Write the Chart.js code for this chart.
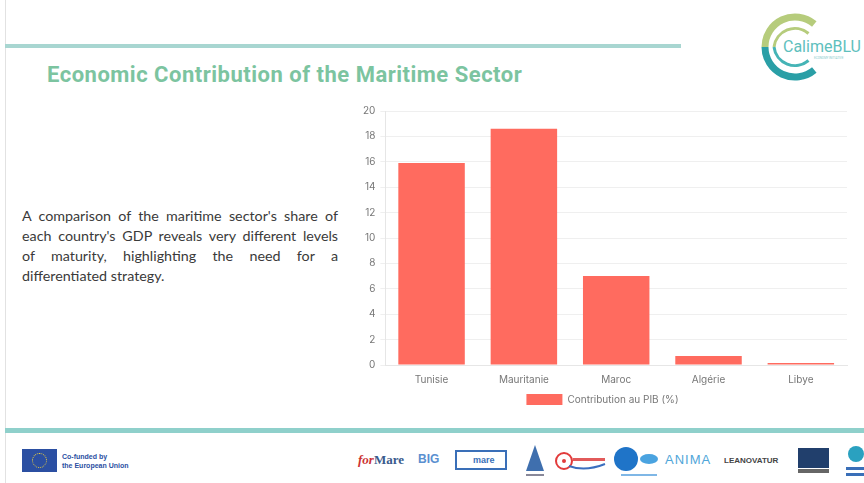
<!DOCTYPE html>
<html>
<head>
<meta charset="utf-8">
<script src="https://cdn.jsdelivr.net/npm/chart.js@4"></script>
<style>
  body { margin: 0; background: #fff; width: 864px; height: 483px; overflow: hidden; position: relative; font-family: "Open Sans", sans-serif; }
  .edge { position: absolute; left: 5px; top: 0; width: 1px; height: 483px; background: #e2e2e2; }
  .topband { position: absolute; left: 5px; top: 44px; width: 676px; height: 4px; background: #a8d6d1; }
  .botband { position: absolute; left: 5px; top: 428px; width: 859px; height: 5px; background: #8fd0cb; }
  .title { position: absolute; left: 47px; top: 62px; font-family: Roboto, sans-serif; font-weight: 700; font-size: 22px; color: #7cc4a0; letter-spacing: 0.5px; white-space: nowrap; }
  .body { position: absolute; left: 22px; top: 206px; width: 316px; font-family: Lato, sans-serif; font-size: 14.3px; line-height: 20px; color: #3a3a3a; }
  .body div { text-align: justify; text-align-last: justify; white-space: nowrap; }
  .body div.last { text-align-last: left; }
  #wrap { position: absolute; left: 340px; top: 100px; width: 515px; height: 315px; }
  .eu { position: absolute; left: 22px; top: 449px; width: 35px; height: 23px; background: #2b4fa2; }
  .eu div { position: absolute; left: 10px; top: 4px; width: 13px; height: 13px; border: 1px dotted #f2d43a; border-radius: 50%; }
  .eutxt { position: absolute; left: 62px; top: 452px; font-family: "Liberation Sans", sans-serif; font-size: 7px; line-height: 9px; color: #2b4fa2; font-weight: 700; }
  .lg { position: absolute; font-family: "Liberation Sans", sans-serif; font-weight: 700; white-space: nowrap; }
</style>
</head>
<body>
<div class="edge"></div>
<div class="topband"></div>
<div class="title">Economic Contribution of the Maritime Sector</div>

<svg style="position:absolute;left:750px;top:5px" width="114" height="85">
  <path d="M 64.3 19 A 30 30 0 0 0 15 42" fill="none" stroke="#b6cc7c" stroke-width="7"/>
  <path d="M 15 42 A 30 30 0 0 0 64.3 65" fill="none" stroke="#2a9fa6" stroke-width="7"/>
  <path d="M 58.5 28.5 A 21 21 0 0 0 24 42" fill="none" stroke="#b6cc7c" stroke-width="3"/>
  <path d="M 24 42 A 21 21 0 0 0 58.5 55.5" fill="none" stroke="#45b4b6" stroke-width="3"/>
  <rect x="40" y="32" width="74" height="20" fill="#fff"/>
  <text x="33" y="47" font-family="Roboto, sans-serif" font-size="16" fill="#5ec0bd">CalimeBLU</text>
  <text x="64" y="54" font-family="Roboto, sans-serif" font-size="3" fill="#8cc">ECONOMY INITIATIVE</text>
</svg>

<div class="body">
  <div>A comparison of the maritime sector's share of</div>
  <div>each country's GDP reveals very different levels</div>
  <div>of maturity, highlighting the need for a</div>
  <div class="last">differentiated strategy.</div>
</div>

<div id="wrap"><canvas id="chart"></canvas></div>

<div class="botband"></div>
<div class="eu"><div></div></div>
<div class="eutxt">Co-funded by<br>the European Union</div>

<div class="lg" style="left:358px;top:452px;font-size:13px;color:#3a5a8c;font-family:'Liberation Serif',serif"><span style="color:#c33;font-style:italic">for</span>Mare</div>
<div class="lg" style="left:418px;top:452px;font-size:12px;color:#5a8fd0">BIG</div>
<div class="lg" style="left:455px;top:450px;width:52px;height:20px;border:2px solid #3a6fb8;box-sizing:border-box;font-size:9px;color:#3a6fb8;padding-left:16px;line-height:16px">mare</div>
<svg style="position:absolute;left:522px;top:443px" width="26" height="38"><path d="M13 2 L22 28 L4 28 Z" fill="#3f6fae"/><rect x="4" y="31" width="18" height="2" fill="#889"/></svg>
<svg style="position:absolute;left:555px;top:450px" width="52" height="22"><circle cx="9" cy="11" r="8" fill="none" stroke="#e23b3b" stroke-width="2"/><circle cx="9" cy="11" r="2" fill="#e23b3b"/><rect x="18" y="8" width="32" height="3" fill="#e25a5a"/><path d="M14 16 Q30 22 50 14" stroke="#3b6fbf" stroke-width="2" fill="none"/></svg>
<svg style="position:absolute;left:613px;top:446px" width="48" height="32"><circle cx="13" cy="13" r="12" fill="#1f74c8"/><ellipse cx="36" cy="13" rx="9" ry="5" fill="#4aa3e0"/><rect x="8" y="28" width="36" height="2" fill="#7fb7e6"/></svg>
<div class="lg" style="left:665px;top:452px;font-size:13px;color:#4fa6d9;letter-spacing:1px;font-weight:400">ANIMA</div>
<div class="lg" style="left:724px;top:456px;font-size:8px;color:#444">LEANOVATUR</div>
<div style="position:absolute;left:798px;top:448px;width:31px;height:20px;background:#213f6c"></div>
<div style="position:absolute;left:798px;top:469px;width:31px;height:4px;background:#666"></div>
<svg style="position:absolute;left:844px;top:445px" width="20" height="36"><circle cx="12" cy="9" r="8" fill="#2aa1c0"/><rect x="2" y="22" width="18" height="3" fill="#3a6fb8"/><rect x="2" y="28" width="18" height="3" fill="#3a6fb8"/></svg>

<script>
const countries = ["Tunisie", "Mauritanie", "Maroc", "Algérie", "Libye"];
const gdpShare = [15.9, 18.6, 7.0, 0.7, 0.15];
const seriesLabel = "Contribution au PIB (%)";

const ctx = document.getElementById("chart").getContext("2d");
new Chart(ctx, {
  type: "bar",
  data: {
    labels: countries,
    datasets: [
      {
        label: seriesLabel,
        data: gdpShare,
        backgroundColor: "#ff6b5f",
        borderWidth: 0,
      },
    ],
  },
  options: {
    responsive: true,
    maintainAspectRatio: false,
    animation: false,
    layout: { padding: { left: 18, right: 8, top: 6, bottom: 0 } },
    plugins: {
      legend: {
        position: "bottom",
        labels: {
          boxWidth: 36,
          boxHeight: 11,
          padding: 7,
          color: "#777",
          font: { family: "Inter", size: 10 },
        },
      },
      tooltip: { enabled: false },
    },
    scales: {
      x: {
        grid: { display: false },
        border: { color: "#e6e6e6" },
        ticks: { color: "#777", font: { family: "Inter", size: 10 }, padding: 1 },
      },
      y: {
        min: 0,
        max: 20,
        ticks: { stepSize: 2, color: "#777", font: { family: "Inter", size: 10 }, padding: 5 },
        grid: { color: "#efefef", tickLength: 5 },
        border: { color: "#e6e6e6" },
      },
    },
  },
});
</script>
</body>
</html>
